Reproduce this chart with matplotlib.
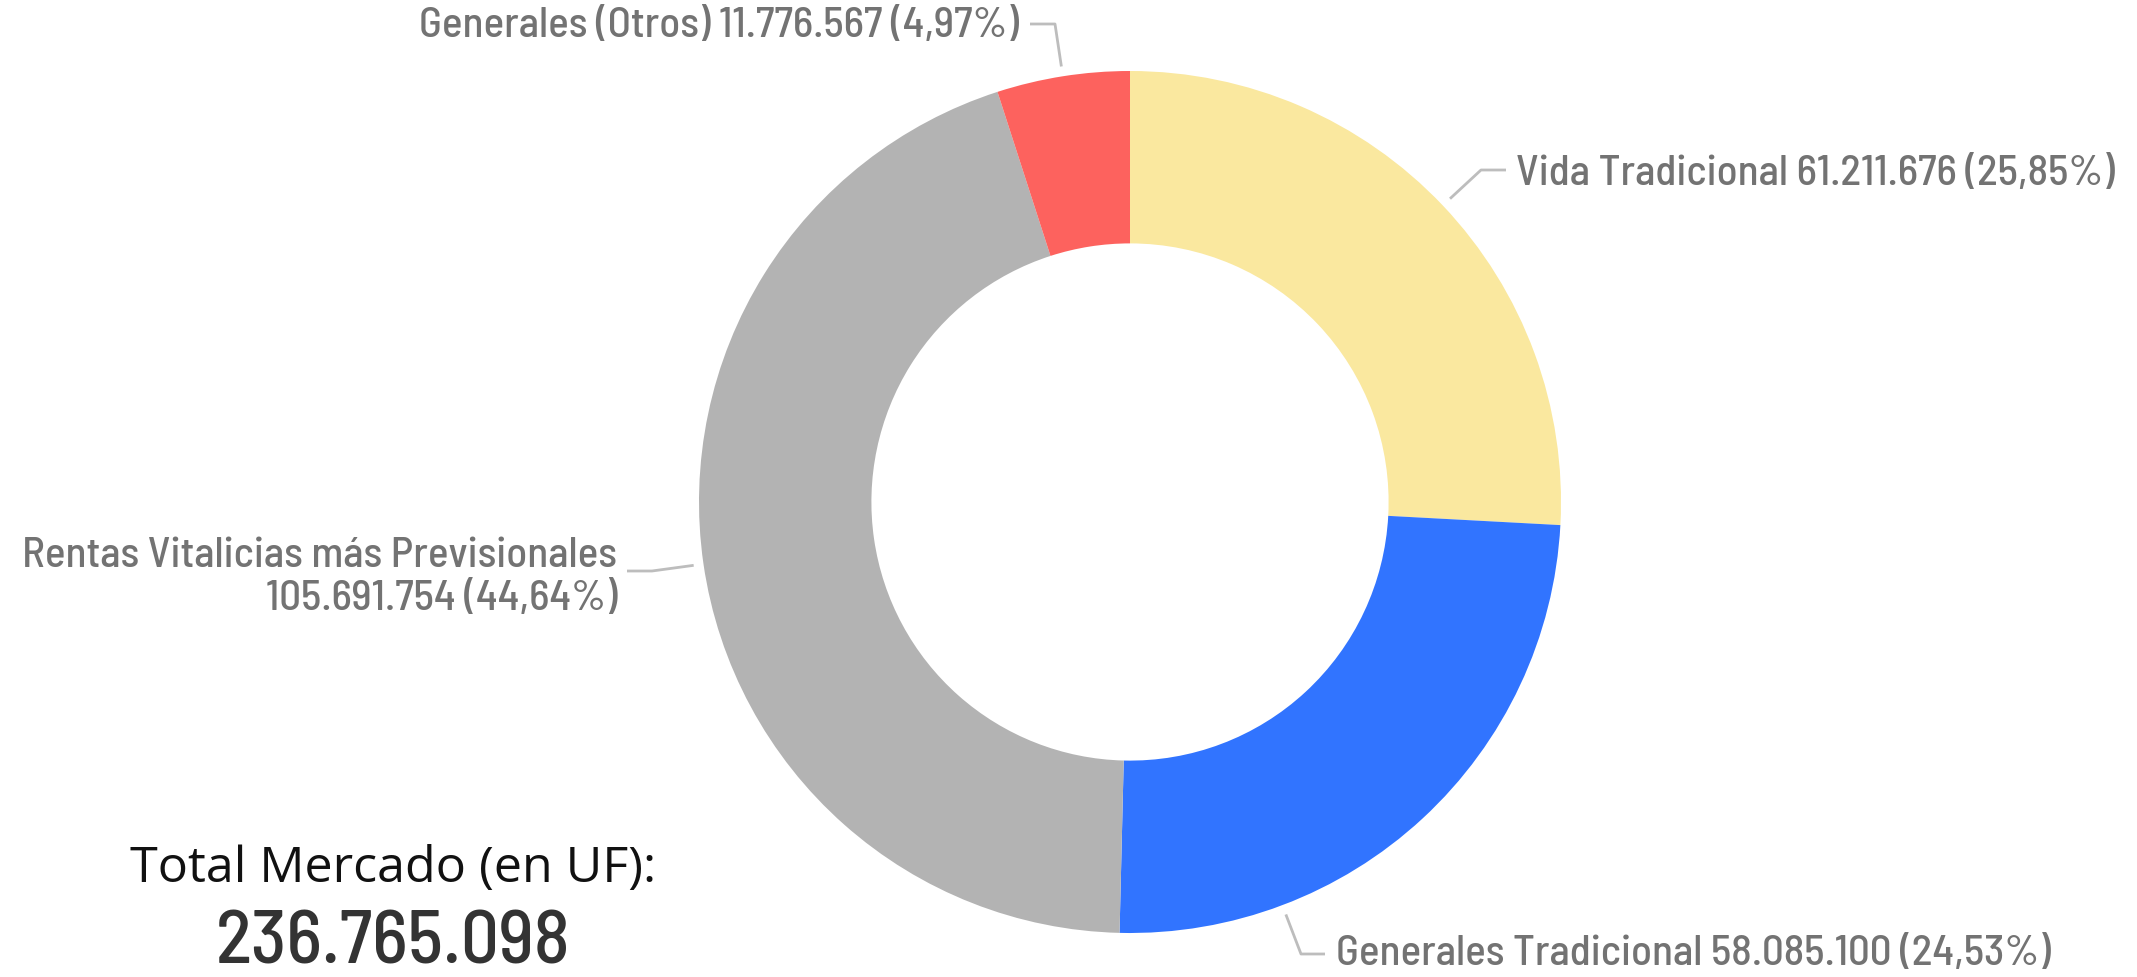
import matplotlib
matplotlib.use('Agg')
from matplotlib import pyplot as plt
import numpy as np

# datos del mercado (UF)
categorias = ['Vida Tradicional', 'Generales Tradicional',
              'Rentas Vitalicias más Previsionales', 'Generales (Otros)']
valores = [61211676, 58085100, 105691754, 11776567]
etiquetas = ['Vida Tradicional 61.211.676 (25,85%)',
             'Generales Tradicional 58.085.100 (24,53%)',
             'Rentas Vitalicias más Previsionales\n105.691.754 (44,64%)',
             'Generales (Otros) 11.776.567 (4,97%)']
titulo = 'Total Mercado (en UF):'
total_txt = '236.765.098'
colores = ['#FAE89F', '#3174FF', '#B3B3B3', '#FD625E']

W, H = 2137, 978
fig = plt.figure(figsize=(W / 100, H / 100), dpi=100)
ax = fig.add_axes([0, 0, 1, 1])

cx, cy, r = 1130, H - 503, 431
wedges, _ = ax.pie(valores, colors=colores, startangle=90, counterclock=False,
                   radius=r, center=(cx, cy), frame=True,
                   wedgeprops=dict(width=r * 0.40, linewidth=0))
ax.set_xlim(0, W)
ax.set_ylim(0, H)
ax.axis('off')

fuente = ['Barlow Semi Condensed', 'Sofia Sans Semi Condensed', 'DejaVu Sans']
gris = '#737373'
linea = '#BDBDBD'
renderer = fig.canvas.get_renderer()


def tam_para_ancho(txt, ancho, **kw):
    # ajusta el tamaño de letra para que el texto mida 'ancho' pixeles
    t = ax.text(0, 0, txt, fontsize=20, **kw)
    w = t.get_window_extent(renderer).width
    t.remove()
    return 20 * ancho / w


fs = tam_para_ancho(etiquetas[3], 600, family=fuente, weight='medium')

# (angulo de inicio o None = mitad del sector, codo, fin de linea, texto xy, ha)
# pixeles medidos desde arriba
lay = [
    (None, (1481, 171), (1506, 171), (1516, 185), 'left'),
    (-69.3, (1301, 955), (1325, 955), (1336, 965), 'left'),
    (None, (652, 572), (627, 572), (617, 610), 'right'),
    (None, (1055, 25), (1030, 25), (1019, 37), 'right'),
]
for w, lab, (ang, codo, fin, txy, ha) in zip(wedges, etiquetas, lay):
    if ang is None:
        ang = (w.theta1 + w.theta2) / 2
    a = np.deg2rad(ang)
    x0, y0 = cx + r * 1.023 * np.cos(a), cy + r * 1.023 * np.sin(a)
    ax.plot([x0, codo[0], fin[0]], [y0, H - codo[1], H - fin[1]],
            color=linea, lw=2, solid_capstyle='butt')
    ax.text(txy[0], H - txy[1], lab, ha=ha, va='baseline', fontsize=fs,
            color=gris, family=fuente, weight='medium', linespacing=1.18,
            multialignment='right' if ha == 'right' else 'left')

fs_tit = tam_para_ancho(titulo, 527, family=['Open Sans', 'DejaVu Sans'])
ax.text(393, H - 882, titulo, ha='center', va='baseline',
        fontsize=fs_tit, color='#111111', family=['Open Sans', 'DejaVu Sans'])
fs_tot = tam_para_ancho(total_txt, 354, family=fuente, weight='medium')
ax.text(393, H - 964, total_txt, ha='center', va='baseline',
        fontsize=fs_tot, color='#333333', family=fuente, weight='medium')

fig.savefig('out.png', dpi=100)
